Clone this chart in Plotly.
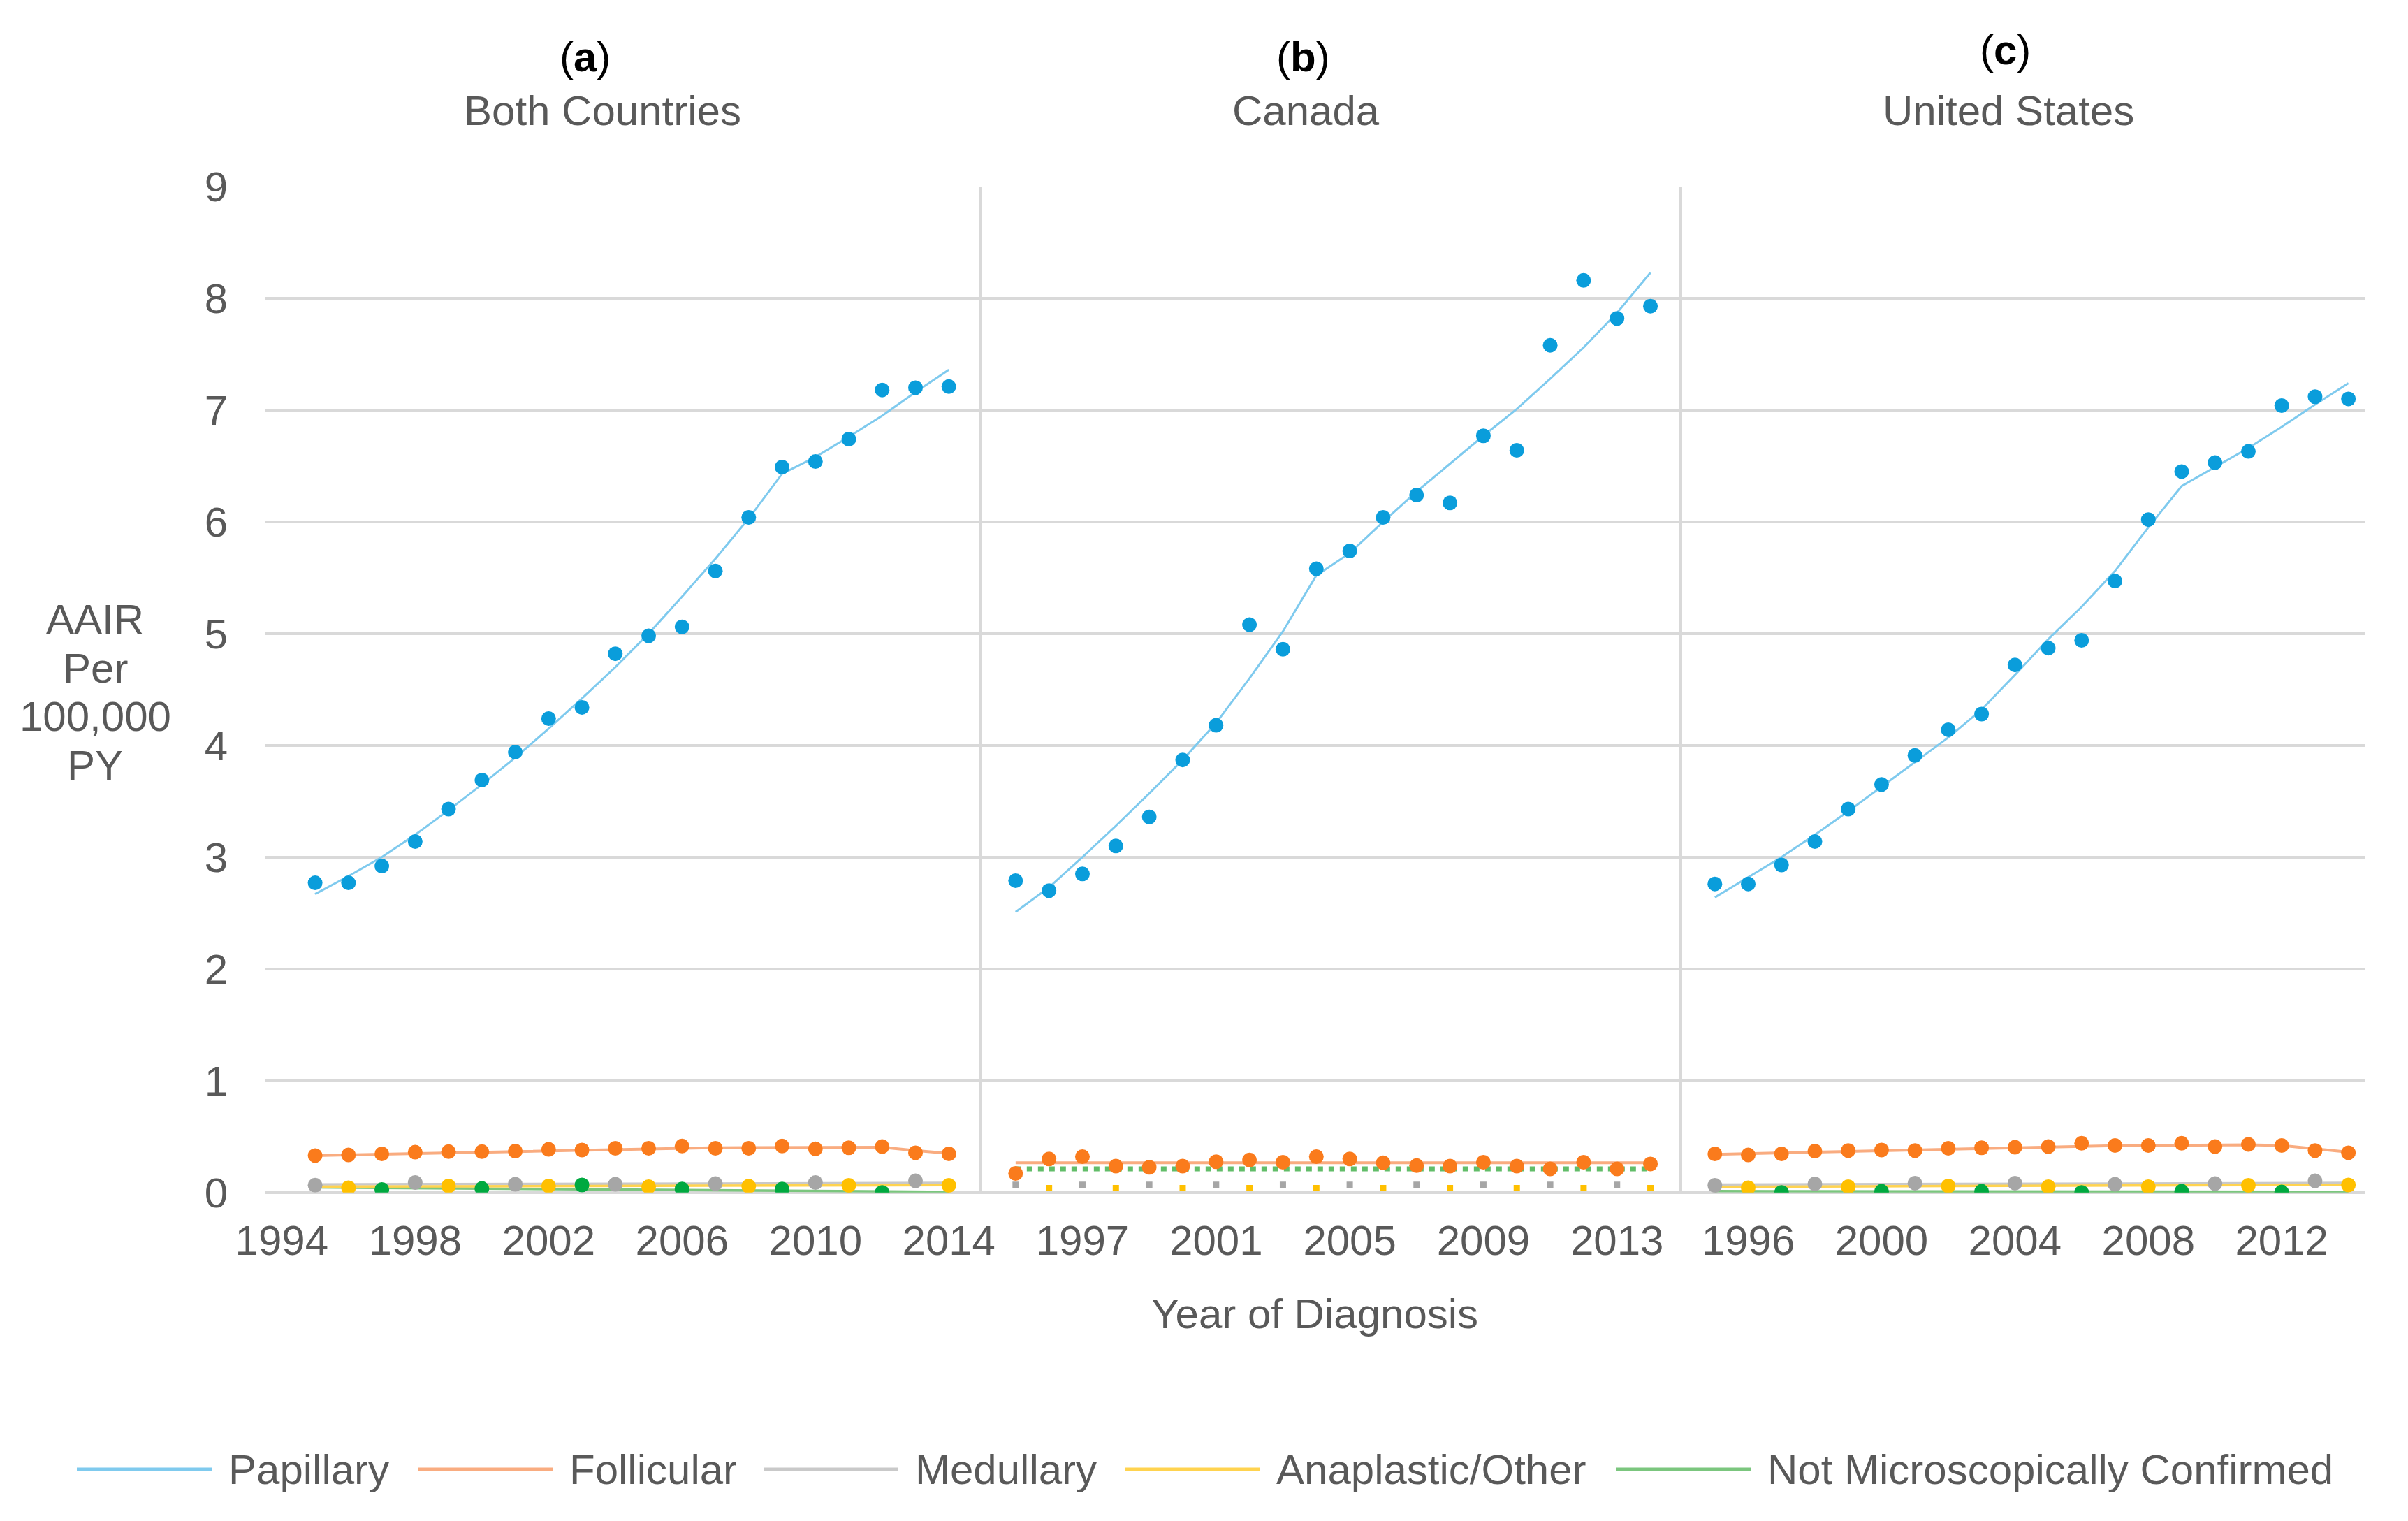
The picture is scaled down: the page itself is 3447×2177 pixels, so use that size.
import plotly.graph_objects as go

W, H = 3447, 2177

YEARS = list(range(1995, 2015))
FIT_ENDS = [1995, 2014]

# ---- Papillary (observed + joinpoint fit) ----
pap_both = [2.77, 2.77, 2.92, 3.14, 3.43, 3.69, 3.94, 4.24, 4.34, 4.82, 4.98, 5.06, 5.56, 6.04, 6.49, 6.54, 6.74, 7.18, 7.20, 7.21]
pap_both_fit = [2.67, 2.83, 3.00, 3.20, 3.42, 3.65, 3.89, 4.15, 4.42, 4.70, 5.00, 5.33, 5.67, 6.03, 6.43, 6.58, 6.76, 6.95, 7.16, 7.36]
pap_can = [2.79, 2.70, 2.85, 3.10, 3.36, 3.87, 4.18, 5.08, 4.86, 5.58, 5.74, 6.04, 6.24, 6.17, 6.77, 6.64, 7.58, 8.16, 7.82, 7.93]
pap_can_fit = [2.51, 2.73, 3.00, 3.28, 3.57, 3.87, 4.20, 4.60, 5.02, 5.52, 5.72, 6.00, 6.27, 6.52, 6.77, 7.01, 7.28, 7.56, 7.87, 8.23]
pap_us = [2.76, 2.76, 2.93, 3.14, 3.43, 3.65, 3.91, 4.14, 4.28, 4.72, 4.87, 4.94, 5.47, 6.02, 6.45, 6.53, 6.63, 7.04, 7.12, 7.10]
pap_us_fit = [2.64, 2.82, 3.00, 3.20, 3.41, 3.63, 3.85, 4.07, 4.32, 4.63, 4.95, 5.24, 5.56, 5.95, 6.32, 6.49, 6.66, 6.85, 7.05, 7.24]

# ---- Follicular ----
fol_both = [0.33, 0.335, 0.345, 0.36, 0.365, 0.365, 0.37, 0.385, 0.38, 0.395, 0.395, 0.415, 0.395, 0.395, 0.415, 0.39, 0.40, 0.41, 0.355, 0.345]
fol_both_fit = [0.33, 0.336, 0.343, 0.35, 0.356, 0.362, 0.368, 0.375, 0.381, 0.387, 0.393, 0.398, 0.40, 0.402, 0.404, 0.405, 0.406, 0.404, 0.375, 0.35]
fol_can = [0.17, 0.30, 0.32, 0.235, 0.225, 0.235, 0.275, 0.29, 0.27, 0.32, 0.30, 0.265, 0.24, 0.235, 0.27, 0.235, 0.21, 0.27, 0.21, 0.255]
fol_can_fit = [0.265, 0.265]
fol_us = [0.345, 0.335, 0.345, 0.37, 0.375, 0.38, 0.375, 0.395, 0.40, 0.405, 0.41, 0.44, 0.42, 0.42, 0.44, 0.41, 0.43, 0.42, 0.375, 0.355]
fol_us_fit = [0.34, 0.345, 0.352, 0.36, 0.367, 0.374, 0.381, 0.388, 0.395, 0.402, 0.41, 0.415, 0.418, 0.42, 0.423, 0.425, 0.426, 0.42, 0.39, 0.36]

# ---- Medullary ----
med_both = [0.065, None, None, 0.088, None, None, 0.073, None, None, 0.073, None, None, 0.079, None, None, 0.088, None, None, 0.104, None]
med_both_fit = [0.072, 0.085]
med_can = [0.069, None, 0.069, None, 0.069, None, 0.069, None, 0.069, None, 0.069, None, 0.069, None, 0.069, None, 0.069, None, 0.069, None]
med_us = [0.063, None, None, 0.077, None, None, 0.083, None, None, 0.083, None, None, 0.073, None, None, 0.079, None, None, 0.104, None]
med_us_fit = [0.07, 0.085]

# ---- Anaplastic/Other ----
ana_both = [None, 0.042, None, None, 0.058, None, None, 0.058, None, None, 0.052, None, None, 0.056, None, None, 0.063, None, None, 0.063]
ana_both_fit = [0.052, 0.065]
ana_can = [None, 0.038, None, 0.038, None, 0.038, None, 0.038, None, 0.038, None, 0.038, None, 0.038, None, 0.038, None, 0.038, None, 0.038]
ana_us = [None, 0.042, None, None, 0.052, None, None, 0.058, None, None, 0.052, None, None, 0.052, None, None, 0.063, None, None, 0.067]
ana_us_fit = [0.05, 0.068]

# ---- Not Microscopically Confirmed ----
nmc_both = [None, None, 0.027, None, None, 0.035, None, None, 0.067, None, None, 0.031, None, None, 0.031, None, None, 0.0, None, None]
nmc_both_fit = [0.045, 0.005]
nmc_can_fit = [0.21, 0.21]
nmc_us = [None, None, 0.0, None, None, 0.01, None, None, 0.01, None, None, 0.0, None, None, 0.01, None, None, 0.004, None, None]
nmc_us_fit = [0.012, 0.005]

SERIES = ["Papillary", "Follicular", "Medullary", "Anaplastic/Other", "Not Microscopically Confirmed"]
PANEL_LETTERS = ["a", "b", "c"]
PANEL_NAMES = ["Both Countries", "Canada", "United States"]
XTICKS = [[1994, 1998, 2002, 2006, 2010, 2014],
          [1997, 2001, 2005, 2009, 2013],
          [1996, 2000, 2004, 2008, 2012]]
Y_TICKS = list(range(0, 10))

# colours
C_MARK = {"pap": "#0A9DDB", "fol": "#FA7B1C", "med": "#A6A6A6", "ana": "#FFC000", "nmc": "#00A940"}
C_LINE = {"pap": "#7FCAEE", "fol": "#F9AC80", "med": "#C9C9C9", "ana": "#FFD34F", "nmc": "#7BC67E"}
TXT = "#595959"
GRID = "#D9D9D9"
FONT = "Liberation Sans, Arial, sans-serif"

fig = go.Figure()


def line(xa, ya, x, y, key, width=3.5, dash=None):
    fig.add_trace(go.Scatter(x=x, y=y, mode="lines", xaxis=xa, yaxis=ya, showlegend=False,
                             hoverinfo="skip",
                             line=dict(color=C_LINE[key] if dash is None else "#62BD69", width=width, dash=dash)))


def pts(xa, ya, y, key, size=21, symbol="circle"):
    fig.add_trace(go.Scatter(x=YEARS, y=y, mode="markers", xaxis=xa, yaxis=ya, showlegend=False,
                             marker=dict(color=C_MARK[key], size=size, symbol=symbol, line=dict(width=0))))


# Panel a
line("x", "y", FIT_ENDS, nmc_both_fit, "nmc")
line("x", "y", FIT_ENDS, med_both_fit, "med")
line("x", "y", FIT_ENDS, ana_both_fit, "ana")
line("x", "y", YEARS, fol_both_fit, "fol", width=4)
line("x", "y", YEARS, pap_both_fit, "pap", width=3)
pts("x", "y", med_both, "med")
pts("x", "y", ana_both, "ana")
pts("x", "y", nmc_both, "nmc")
pts("x", "y", fol_both, "fol")
pts("x", "y", pap_both, "pap")

# Panel b
line("x2", "y2", FIT_ENDS, fol_can_fit, "fol", width=4)
line("x2", "y2", FIT_ENDS, nmc_can_fit, "nmc", width=7, dash="8px,8px")
line("x2", "y2", YEARS, pap_can_fit, "pap", width=3)
pts("x2", "y2", med_can, "med", size=9, symbol="square")
pts("x2", "y2", ana_can, "ana", size=9, symbol="square")
pts("x2", "y2", fol_can, "fol")
pts("x2", "y2", pap_can, "pap")

# Panel c
line("x3", "y3", FIT_ENDS, nmc_us_fit, "nmc")
line("x3", "y3", FIT_ENDS, med_us_fit, "med")
line("x3", "y3", FIT_ENDS, ana_us_fit, "ana")
line("x3", "y3", YEARS, fol_us_fit, "fol", width=4)
line("x3", "y3", YEARS, pap_us_fit, "pap", width=3)
pts("x3", "y3", med_us, "med")
pts("x3", "y3", ana_us, "ana")
pts("x3", "y3", nmc_us, "nmc")
pts("x3", "y3", fol_us, "fol")
pts("x3", "y3", pap_us, "pap")

# ---- axes ----
px = lambda v: v / W
py = lambda v: 1 - v / H
Y_DOM = [py(1706.7), py(267)]
X_DOMS = [[px(379), px(1406)], [px(1406), px(2408)], [px(2408), px(3386)]]
X_RANGES = [[1993.49, 2015.0], [1994.0, 2014.95], [1994.02, 2014.51]]

for i in range(3):
    sfx = "" if i == 0 else str(i + 1)
    fig.update_layout(**{
        "xaxis" + sfx: dict(domain=X_DOMS[i], range=X_RANGES[i], anchor="y" + sfx, automargin=False,
                            tickmode="array", tickvals=XTICKS[i], ticktext=[str(t) for t in XTICKS[i]],
                            showgrid=False, zeroline=False, showline=False, ticks="",
                            tickfont=dict(family=FONT, size=60, color=TXT), ticklabelstandoff=28),
        "yaxis" + sfx: dict(domain=Y_DOM, range=[0, 9], anchor="x" + sfx, automargin=False,
                            tickmode="array", tickvals=Y_TICKS,
                            showticklabels=(i == 0),
                            showgrid=True, gridcolor=GRID, gridwidth=4,
                            zeroline=True, zerolinecolor=GRID, zerolinewidth=4,
                            showline=(i > 0), linecolor=GRID, linewidth=4,
                            ticks="", tickfont=dict(family=FONT, size=60, color=TXT),
                            ticklabelstandoff=52),
    })

annotations = []
# panel titles
letter_pos = [(837, 81), (1865, 81), (2870, 72)]
name_pos = [(862, 158), (1869, 158), (2875, 158)]
for i in range(3):
    annotations.append(dict(x=px(letter_pos[i][0]), y=py(letter_pos[i][1]), xref="paper", yref="paper",
                            text="(<b>%s</b>)" % PANEL_LETTERS[i], showarrow=False,
                            font=dict(family=FONT, size=60, color="#000000"),
                            xanchor="center", yanchor="middle"))
    annotations.append(dict(x=px(name_pos[i][0]), y=py(name_pos[i][1]), xref="paper", yref="paper",
                            text=PANEL_NAMES[i], showarrow=False,
                            font=dict(family=FONT, size=60, color=TXT),
                            xanchor="center", yanchor="middle"))

# y-axis title (one line per annotation)
for txt, yy in zip(["AAIR", "Per", "100,000", "PY"], [886, 956, 1026, 1095]):
    annotations.append(dict(x=px(136), y=py(yy), xref="paper", yref="paper", text=txt, showarrow=False,
                            font=dict(family=FONT, size=60, color=TXT), xanchor="center", yanchor="middle"))

# x-axis title
annotations.append(dict(x=px(1882), y=py(1880), xref="paper", yref="paper", text="Year of Diagnosis",
                        showarrow=False, font=dict(family=FONT, size=60, color=TXT),
                        xanchor="center", yanchor="middle"))

# manual legend (long line samples)
shapes = []
leg_keys = ["pap", "fol", "med", "ana", "nmc"]
leg_line_x = [(110, 303), (598, 791), (1093, 1286), (1611, 1803), (2313, 2506)]
leg_text_x = [325, 813, 1308, 1825, 2528]
LEG_Y = 2103
for k, name, (x0, x1), tx in zip(leg_keys, SERIES, leg_line_x, leg_text_x):
    shapes.append(dict(type="line", xref="paper", yref="paper", x0=px(x0), x1=px(x1), y0=py(LEG_Y), y1=py(LEG_Y),
                       line=dict(color=C_LINE[k], width=5)))
    annotations.append(dict(x=px(tx), y=py(LEG_Y), xref="paper", yref="paper", text=name, showarrow=False,
                            font=dict(family=FONT, size=60, color=TXT), xanchor="left", yanchor="middle"))

fig.update_layout(width=W, height=H, margin=dict(l=0, r=0, t=0, b=0, pad=0, autoexpand=False),
                  paper_bgcolor="white", plot_bgcolor="white", showlegend=False,
                  annotations=annotations, shapes=shapes)

fig.write_html("out.html", config={"displayModeBar": False},
               post_script="document.body.style.margin='0px';document.body.style.overflow='hidden';")
